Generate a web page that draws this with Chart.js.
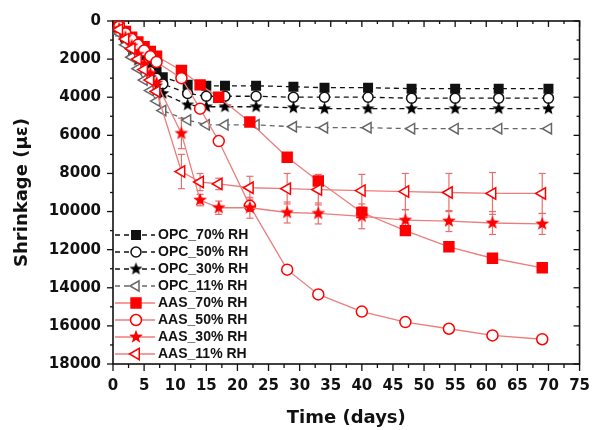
<!DOCTYPE html>
<html><head><meta charset="utf-8">
<script src="https://cdn.jsdelivr.net/npm/chart.js@4.4.1/dist/chart.umd.min.js"></script>
<style>html,body{margin:0;padding:0;background:#fff;}#wrap{width:596px;height:430px;}</style>
</head><body><div id="wrap"><canvas id="c" width="596" height="430"></canvas></div>
<script>
// ---- data ----
const opcDays = [1,2,3,4,5,6,7,8,12,15,18,23,29,34,41,48,55,62,70];
const aasDays = [1,2,3,4,5,6,7,11,14,17,22,28,33,40,47,54,61,69];

const opc70 = [450,850,1250,1650,2000,2350,2650,2950,3350,3400,3400,3400,3450,3500,3500,3550,3550,3550,3550];
const opc50 = [500,950,1400,1850,2250,2650,3000,3300,3800,3950,3950,3950,4000,4000,4000,4050,4050,4050,4050];
const opc30 = [550,1050,1550,2050,2500,2950,3400,3800,4400,4500,4500,4500,4550,4600,4600,4600,4600,4600,4600];
const opc11 = [650,1250,1900,2500,3100,3650,4200,4700,5200,5450,5450,5450,5550,5600,5600,5650,5650,5650,5650];

const aas70 = [250,550,850,1100,1350,1600,1850,2600,3350,4000,5300,7150,8400,10050,11000,11850,12450,12950];
const aas50 = [300,650,950,1250,1550,1850,2150,3000,4600,6300,9700,13050,14350,15250,15800,16150,16500,16700];
const aas30 = [400,850,1300,1750,2250,2750,3250,5900,9400,9800,9800,10050,10100,10250,10450,10500,10600,10650];
const aas11 = [450,950,1450,2000,2550,3100,3700,7900,8450,8550,8750,8800,8850,8900,8950,9000,9050,9050];

const aas30Err = [0,0,0,0,0,0,0,800,300,350,550,550,550,650,550,550,600,550];
const aas11Err = [0,0,0,0,0,0,0,900,450,300,600,800,800,850,950,1000,1100,1050];

const seriesLabels = ['OPC_70% RH','OPC_50% RH','OPC_30% RH','OPC_11% RH','AAS_70% RH','AAS_50% RH','AAS_30% RH','AAS_11% RH'];
const xTickValues = [0,5,10,15,20,25,30,35,40,45,50,55,60,65,70,75];
const yTickValues = [0,2000,4000,6000,8000,10000,12000,14000,16000,18000];
const xTitle = 'Time (days)';
const yTitle = 'Shrinkage (\u03bc\u03b5)';

// ---- styling helpers ----
function starImage(color, size, ro, ri){
  const c = document.createElement('canvas');
  c.width = size; c.height = size;
  const g = c.getContext('2d');
  g.fillStyle = color; g.beginPath();
  for (let i=0;i<10;i++){
    const r = i%2===0 ? ro : ri;
    const a = -Math.PI/2 + i*Math.PI/5;
    const px = size/2 + r*Math.cos(a), py = size/2 + r*Math.sin(a);
    if(i===0) g.moveTo(px,py); else g.lineTo(px,py);
  }
  g.closePath(); g.fill();
  return c;
}
const blackStar = starImage('#000', 15, 6.8, 2.9);
const redStar = starImage('#ff0000', 16, 7.2, 3.0);

const BLACK = '#111';
const GREY = '#666';
const RED = '#ff0000';
const PINK = 'rgb(236,125,125)';

function pts(days, vals){ return days.map((d,i)=>({x:d, y:vals[i]})); }

const styles = [
  {days:opcDays, vals:opc70, line:BLACK, dash:[5,4], ps:'rect', r:6, bg:BLACK, bc:BLACK, rot:0},
  {days:opcDays, vals:opc50, line:BLACK, dash:[5,4], ps:'circle', r:5, bg:'#fff', bc:BLACK, rot:0},
  {days:opcDays, vals:opc30, line:BLACK, dash:[5,4], ps:blackStar, r:6, bg:BLACK, bc:BLACK, rot:0},
  {days:opcDays, vals:opc11, line:GREY, dash:[5,4], ps:'triangle', r:6, bg:'#fff', bc:GREY, rot:-90},
  {days:aasDays, vals:aas70, line:PINK, dash:[], ps:'rect', r:7, bg:RED, bc:RED, rot:0},
  {days:aasDays, vals:aas50, line:PINK, dash:[], ps:'circle', r:5.5, bg:'#fff', bc:RED, rot:0},
  {days:aasDays, vals:aas30, line:PINK, dash:[], ps:redStar, r:6, bg:RED, bc:RED, rot:0},
  {days:aasDays, vals:aas11, line:PINK, dash:[], ps:'triangle', r:6.5, bg:'#fff', bc:RED, rot:-90},
];

const datasets = styles.map((s,i)=>({
  label: seriesLabels[i],
  data: pts(s.days, s.vals),
  borderColor: s.line,
  borderWidth: 1.3,
  borderDash: s.dash,
  pointStyle: s.ps,
  pointRadius: s.r,
  pointRotation: s.rot,
  pointBackgroundColor: s.bg,
  pointBorderColor: s.bc,
  pointBorderWidth: 1.5,
  tension: 0,
  fill: false,
  order: 8 - i
}));

const errorSets = [{index:6, err:aas30Err}, {index:7, err:aas11Err}];

// ---- plugins ----
const framePlugin = {
  id:'frame',
  beforeDatasetsDraw(chart){
    const {ctx, chartArea:a, scales} = chart;
    const x = scales.x, y = scales.y;
    ctx.save();
    ctx.strokeStyle = '#111';
    ctx.lineWidth = 1.6;
    ctx.strokeRect(a.left, a.top, a.right-a.left, a.bottom-a.top);
    ctx.lineWidth = 1.3;
    const seg = (x1,y1,x2,y2)=>{ctx.beginPath();ctx.moveTo(x1,y1);ctx.lineTo(x2,y2);ctx.stroke();};
    // x ticks: majors from tick list, minors halfway
    for (let k=0;k<xTickValues.length;k++){
      const px = x.getPixelForValue(xTickValues[k]);
      seg(px, a.bottom, px, a.bottom+7);
      seg(px, a.top, px, a.top+6);
      if (k<xTickValues.length-1){
        const pm = x.getPixelForValue((xTickValues[k]+xTickValues[k+1])/2);
        seg(pm, a.bottom, pm, a.bottom+4);
        seg(pm, a.top, pm, a.top+3);
      }
    }
    for (let k=0;k<yTickValues.length;k++){
      const py = y.getPixelForValue(yTickValues[k]);
      seg(a.left-6, py, a.left, py);
      seg(a.right-6, py, a.right, py);
      if (k<yTickValues.length-1){
        const pm = y.getPixelForValue((yTickValues[k]+yTickValues[k+1])/2);
        seg(a.left-3, pm, a.left, pm);
        seg(a.right-3, pm, a.right, pm);
      }
    }
    // error bars
    ctx.strokeStyle = 'rgb(232,110,110)';
    ctx.lineWidth = 1.2;
    errorSets.forEach(es=>{
      const ds = chart.data.datasets[es.index];
      ds.data.forEach((p,j)=>{
        const e = es.err[j];
        if (!e) return;
        const px = x.getPixelForValue(p.x);
        const t = y.getPixelForValue(p.y - e), b = y.getPixelForValue(p.y + e);
        seg(px, t, px, b);
        seg(px-3.5, t, px+3.5, t);
        seg(px-3.5, b, px+3.5, b);
      });
    });
    ctx.restore();
  }
};

function drawMarker(ctx, s, cx, cy){
  ctx.save();
  ctx.lineWidth = 1.5;
  ctx.fillStyle = s.bg; ctx.strokeStyle = s.bc;
  if (s.ps === 'rect'){
    const h = s.r*Math.SQRT1_2;
    ctx.beginPath(); ctx.rect(cx-h, cy-h, 2*h, 2*h); ctx.fill(); ctx.stroke();
  } else if (s.ps === 'circle'){
    ctx.beginPath(); ctx.arc(cx, cy, s.r, 0, Math.PI*2); ctx.fill(); ctx.stroke();
  } else if (s.ps === 'triangle'){
    const r = s.r;
    ctx.beginPath();
    ctx.moveTo(cx - r, cy);
    ctx.lineTo(cx + r*0.5, cy - r*0.866);
    ctx.lineTo(cx + r*0.5, cy + r*0.866);
    ctx.closePath(); ctx.fill(); ctx.stroke();
  } else {
    ctx.drawImage(s.ps, cx - s.ps.width/2, cy - s.ps.height/2);
  }
  ctx.restore();
}

const legendPlugin = {
  id:'customLegend',
  afterDraw(chart){
    const ctx = chart.ctx;
    const x0 = 115, x1 = 155, xm = 136, xt = 158;
    const y0 = 235, dy = 17.0;
    ctx.save();
    ctx.font = 'bold 14px "Liberation Sans", Arial, sans-serif';
    ctx.textBaseline = 'middle';
    ctx.textAlign = 'left';
    styles.forEach((s,i)=>{
      const yy = y0 + i*dy;
      ctx.strokeStyle = s.line; ctx.lineWidth = 1.3; ctx.setLineDash(s.dash);
      ctx.beginPath(); ctx.moveTo(x0, yy); ctx.lineTo(x1, yy); ctx.stroke();
      ctx.setLineDash([]);
      drawMarker(ctx, s, xm, yy);
      ctx.fillStyle = '#111';
      ctx.fillText(seriesLabels[i], xt, yy+0.5);
    });
    ctx.restore();
  }
};

const tickFont = {family:'"DejaVu Sans", sans-serif', size:15, weight:'bold'};
const titleFont = {family:'"DejaVu Sans", sans-serif', size:18, weight:'bold'};

new Chart(document.getElementById('c'), {
  type:'line',
  data:{datasets},
  options:{
    responsive:false,
    animation:false,
    devicePixelRatio:1,
    layout:{padding:{left:0, top:21, right:12, bottom:0}},
    plugins:{legend:{display:false}, tooltip:{enabled:false}},
    scales:{
      x:{
        type:'linear', min:0, max:75,
        border:{display:false},
        grid:{display:false, drawTicks:true, tickLength:7},
        ticks:{stepSize:5, autoSkip:false, maxRotation:0, color:'#111', font:tickFont, padding:6,
               callback:(v)=> xTickValues.includes(v) ? String(v) : ''},
        title:{display:true, text:xTitle, color:'#111', font:titleFont, padding:{top:0,bottom:1}},
        afterFit:(s)=>{ s.height = 66; }
      },
      y:{
        type:'linear', min:0, max:18000, reverse:true,
        border:{display:false},
        grid:{display:false, drawTicks:true, tickLength:6},
        ticks:{stepSize:2000, autoSkip:false, color:'#111', font:tickFont, padding:6,
               callback:(v)=> yTickValues.includes(v) ? String(v) : ''},
        title:{display:true, text:yTitle, color:'#111', font:titleFont, padding:{top:12,bottom:0}},
        afterFit:(s)=>{ s.width = 113; }
      }
    }
  },
  plugins:[framePlugin, legendPlugin]
});
</script>
</body></html>
